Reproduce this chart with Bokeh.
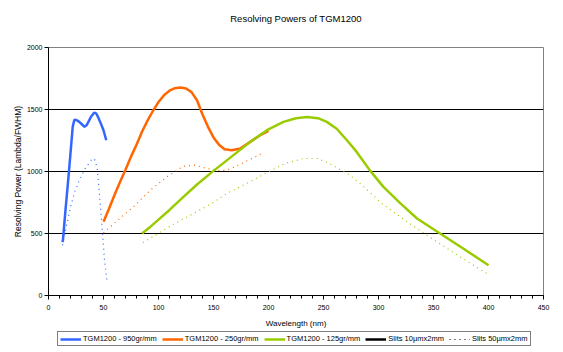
from bokeh.plotting import figure
from bokeh.layouts import column
from bokeh.models import Range1d, FixedTicker, Legend, LegendItem, Title
from bokeh.embed import file_html
from bokeh.resources import INLINE

# Data
# TGM1200 - 950 gr/mm
x_950_s10 = [12.5, 13.1, 15.2, 18.2, 20.5, 22.0, 23.5, 25.8, 28.0, 30.3, 32.7, 34.5, 36.3, 38.5, 40.9, 42.2, 43.4, 45.0, 47.0, 50.0, 52.5]
y_950_s10 = [430, 444, 664, 960, 1200, 1360, 1418, 1413, 1400, 1381, 1360, 1372, 1400, 1440, 1468, 1474, 1468, 1440, 1400, 1333, 1252]
x_950_s50 = [12.7, 16.1, 20.4, 24.0, 28.0, 33.4, 37.0, 39.4, 40.4, 42.5, 44.5, 47.0, 49.4, 50.9, 53.1]
y_950_s50 = [405, 553, 728, 840, 930, 1024, 1070, 1099, 1105, 1091, 1010, 742, 473, 285, 123]

# TGM1200 - 250 gr/mm
x_250_s10 = [50, 55, 60, 65, 70, 75, 80, 85, 90, 95, 100, 105, 110, 115, 120, 125, 130, 135, 140, 145, 150, 155, 160, 166.7, 174.3, 183.4, 192.5, 200]
y_250_s10 = [594, 700, 810, 915, 1015, 1120, 1215, 1320, 1410, 1490, 1560, 1615, 1652, 1672, 1678, 1670, 1640, 1575, 1460, 1360, 1275, 1215, 1180, 1172, 1185, 1239, 1293, 1327]
x_250_s50 = [50, 62.2, 77.3, 92.5, 107.6, 122.7, 133.4, 143.9, 155, 162, 170, 180, 188, 195]
y_250_s50 = [505, 602, 715, 849, 957, 1043, 1051, 1024, 1008, 1010, 1040, 1083, 1118, 1150]

# TGM1200 - 125 gr/mm
x_125_s10 = [85, 92.5, 100, 110, 122.7, 135, 150, 165, 183.4, 198.6, 213.6, 225, 235, 245, 253, 262, 271.3, 280, 292.5, 304.5, 319.7, 335, 356, 377, 400]
y_125_s10 = [500, 553, 612, 690, 795, 895, 1005, 1110, 1239, 1333, 1400, 1430, 1440, 1430, 1400, 1345, 1252, 1160, 1005, 876, 745, 621, 500, 379, 244]
x_125_s50 = [85.8, 97, 113.6, 131.8, 148.5, 162.2, 187, 197, 215, 232, 244, 254.5, 265, 273, 283.4, 294, 303, 313.6, 327, 344, 370, 398.5]
y_125_s50 = [427, 486, 575, 661, 742, 823, 935, 984, 1065, 1105, 1105, 1069, 1016, 976, 903, 817, 742, 674, 589, 486, 335, 177]

x_ticks = [0, 50, 100, 150, 200, 250, 300, 350, 400, 450]
y_ticks = [0, 500, 1000, 1500, 2000]

legend_labels = ["TGM1200 - 950gr/mm", "TGM1200 - 250gr/mm", "TGM1200 - 125gr/mm",
                 "Slits 10µmx2mm", "Slits 50µmx2mm"]

FONT = "Liberation Sans"
BLUE = "#3366FF"
ORANGE = "#FF6600"
GREEN = "#99CC00"
NAN = float("nan")

p = figure(width=563, height=330, output_backend="svg", toolbar_location=None,
           title=None,
           x_range=Range1d(0, 450), y_range=Range1d(0, 2000),
           min_border_left=48, min_border_right=20, min_border_top=47, min_border_bottom=35,
           background_fill_color="white", border_fill_color="white")

# spacer (closest to the frame) then the real title above it
p.add_layout(Title(text=" ", text_font=FONT, text_font_size="14px", standoff=6), "above")
p.add_layout(Title(text="Resolving Powers of TGM1200", text_font=FONT, text_font_size="9.5px",
                   text_font_style="normal", align="center", offset=-12, standoff=0,
                   text_color="black"), "above")

p.outline_line_color = "#808080"
p.outline_line_width = 1

p.xgrid.visible = False
p.ygrid.ticker = FixedTicker(ticks=[500, 1000, 1500])
p.ygrid.grid_line_color = "black"
p.ygrid.grid_line_width = 1

p.xaxis.ticker = FixedTicker(ticks=x_ticks, minor_ticks=list(range(0, 451, 10)))
p.yaxis.ticker = FixedTicker(ticks=y_ticks)
for ax in (p.xaxis[0], p.yaxis[0]):
    ax.axis_line_color = "black"
    ax.major_tick_line_color = "black"
    ax.major_tick_in = 0
    ax.major_tick_out = 4
    ax.minor_tick_in = 0
    ax.minor_tick_out = 3
    ax.minor_tick_line_color = "black"
    ax.major_label_text_font = FONT
    ax.major_label_text_font_size = "7px"
    ax.major_label_text_color = "black"
    ax.axis_label_text_font = FONT
    ax.axis_label_text_font_style = "normal"
    ax.axis_label_text_color = "black"
p.yaxis.minor_tick_line_color = None
p.xaxis.axis_label = "Wavelength (nm)"
p.yaxis.axis_label = "Resolving Power (Lambda/FWHM)"
p.xaxis.axis_label_text_font_size = "8px"
p.yaxis.axis_label_text_font_size = "8.5px"
p.xaxis.major_label_standoff = 5
p.yaxis.major_label_standoff = 2
p.xaxis.axis_label_standoff = 6
p.yaxis.axis_label_standoff = 1

p.line(x_950_s10, y_950_s10, line_color=BLUE, line_width=2.5)
p.line(x_950_s50, y_950_s50, line_color=BLUE, line_width=1.2, line_dash="1 4")
p.line(x_250_s10, y_250_s10, line_color=ORANGE, line_width=2.5)
p.line(x_250_s50, y_250_s50, line_color=ORANGE, line_width=1.2, line_dash="1 4")
p.line(x_125_s10, y_125_s10, line_color=GREEN, line_width=2.5)
p.line(x_125_s50, y_125_s50, line_color=GREEN, line_width=1.2, line_dash="1 4")

# Legend strip below the chart (its frame is aligned with the chart's frame)
q = figure(width=563, height=22, output_backend="svg", toolbar_location=None,
           x_range=Range1d(0, 1), y_range=Range1d(0, 1),
           x_axis_type=None, y_axis_type=None,
           min_border_left=0, min_border_right=0, min_border_top=0, min_border_bottom=0,
           outline_line_color=None, background_fill_color="white", border_fill_color="white")
q.grid.visible = False
styles = [(BLUE, 2.5, "solid"), (ORANGE, 2.5, "solid"), (GREEN, 2.5, "solid"),
          ("black", 2.5, "solid"), ("black", 1.2, "1 4")]
items = []
for lab, (col, w, dash) in zip(legend_labels, styles):
    r = q.line([NAN], [NAN], line_color=col, line_width=w, line_dash=dash)
    items.append(LegendItem(label=lab, renderers=[r]))

legend = Legend(items=items, orientation="horizontal", location=(9, 6))
legend.label_text_font = FONT
legend.label_text_font_size = "7.5px"
legend.label_text_color = "black"
legend.glyph_width = 21
legend.glyph_height = 8
legend.label_standoff = 2
legend.label_height = 8
legend.spacing = 5
legend.padding = 2
legend.margin = 0
legend.border_line_color = "black"
legend.border_line_width = 1
legend.background_fill_color = "white"
legend.background_fill_alpha = 1
q.add_layout(legend, "center")

layout = column(p, q, spacing=0)
open("out.html", "w").write(file_html(layout, INLINE))
